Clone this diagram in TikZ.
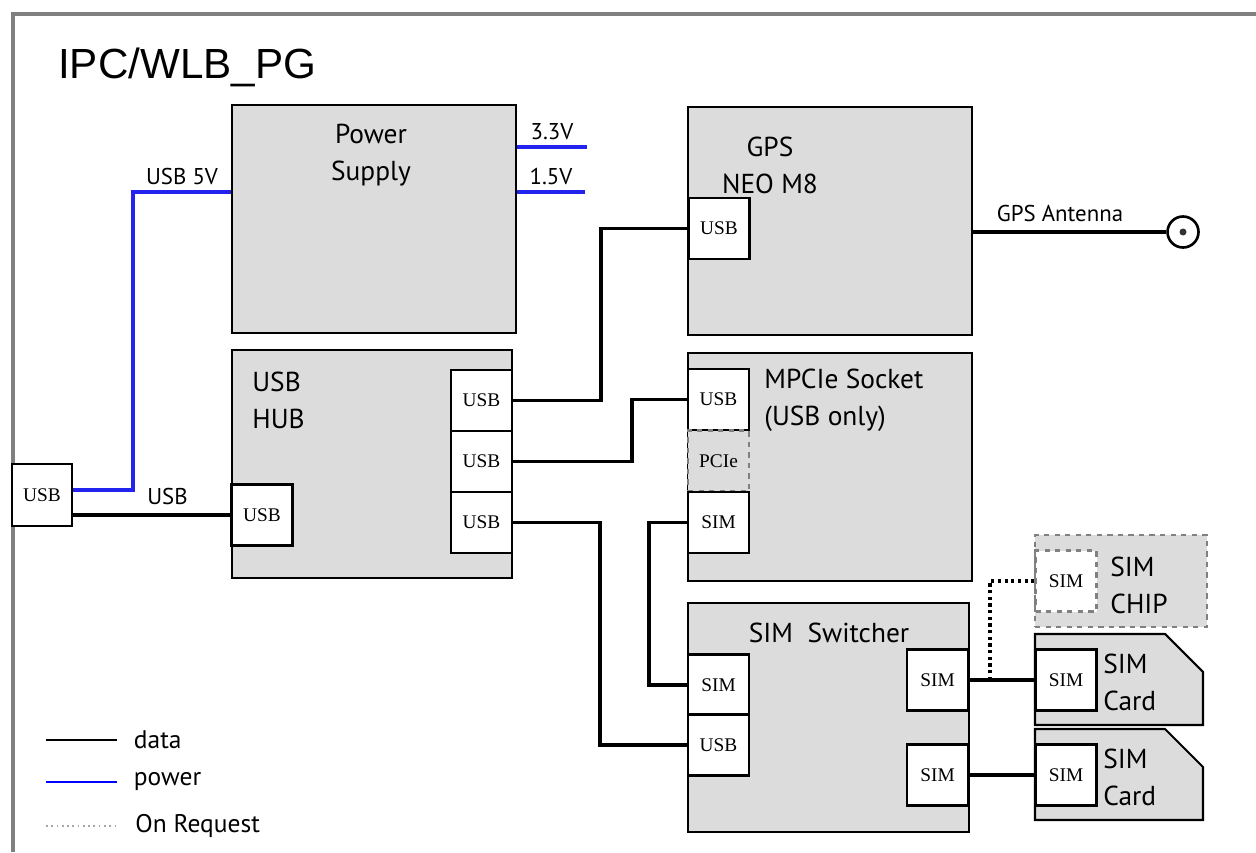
\documentclass[tikz,border=0pt]{standalone}
\usepackage{fontspec}
\setmainfont{Liberation Serif}
\newfontfamily\labelfont{PT Sans}
\newfontfamily\titlefont{Liberation Sans}
\usepackage{tikz}
\usetikzlibrary{calc}
\usepackage{xcolor}
\definecolor{boxgray}{RGB}{220,220,220}
\definecolor{pwrblue}{RGB}{35,35,240}
\definecolor{framegray}{RGB}{128,128,128}

\begin{document}
\begin{tikzpicture}[x=0.02cm, y=-0.02cm,
    block/.style={draw, fill=boxgray, line width=1.2pt, inner sep=0pt,
      minimum width=5.68cm, minimum height=4.56cm},
    port/.style={draw, fill=white, line width=1.2pt, inner sep=0pt,
      minimum width=1.22cm, minimum height=1.22cm,
      font=\fontsize{11}{11}\selectfont},
    lbl/.style={font=\labelfont\fontsize{15.6}{21}\selectfont, inner sep=0pt},
    small/.style={font=\labelfont\fontsize{13}{13}\selectfont, inner sep=0pt},
    data/.style={line width=1.8pt},
    pwr/.style={line width=1.8pt, pwrblue}]
  \useasboundingbox (0,0) rectangle (1256,852);
  % frame and title
  \draw[framegray, line width=1.8pt] (13,852) -- (13,14) -- (1256,14);
  \node[font=\titlefont\fontsize{24}{24}\selectfont, anchor=west]
    (title) at (52,67) {IPC/WLB\_PG};

  % main blocks
  \node[block] (psu) at (374,219) {};
  \node[block] (gps) at (830,221) {};
  \node[block, minimum width=5.6cm] (hub) at (372,464) {};
  \node[block] (mpcie) at (830,467) {};
  \node[block, minimum width=5.62cm, minimum height=4.58cm]
    (sw) at (828.5,717.5) {};

  % SIM chip (on request) and SIM cards
  \node[block, draw=gray, dashed, line width=1pt, minimum width=3.44cm,
    minimum height=1.84cm] (chip) at (1121,581) {};
  \foreach \yy/\nm in {634/cardA, 729/cardB} {
    \draw[fill=boxgray, line width=1.2pt] (1035,\yy) -- (1165,\yy)
      -- (1203,\yy+38) -- (1203,\yy+91) -- (1035,\yy+91) -- cycle;
  }

  % block labels
  \node[lbl, align=center] (psutxt) at (371,155) {Power\\Supply};
  \node[lbl, align=center] (gpstxt) at (770,165) {GPS\\NEO M8};
  \node[lbl, align=left, anchor=west] (hubtxt) at (252,400) {USB\\HUB};
  \node[lbl, align=left, anchor=west] (mpctxt) at (764,400)
    {MPCIe Socket\\(USB only)};
  \node[lbl] (swtxt) at (829,633) {SIM\ \ Switcher};
  \node[lbl, align=left, anchor=west] (chiptxt) at (1110,585) {SIM\\CHIP};
  \node[lbl, align=left, anchor=west] (cardAtxt) at (1103,682) {SIM\\Card};
  \node[lbl, align=left, anchor=west] (cardBtxt) at (1103,777) {SIM\\Card};

  % ports
  \node[port, minimum width=1.2cm, minimum height=1.24cm] (ext) at (42,495) {USB};
  \node[port] (hubin) at (262,515) {USB};
  \node[port] (hubA) at (481.5,400.5) {USB};
  \node[port] (hubB) at (481.5,461.5) {USB};
  \node[port] (hubC) at (481.5,522.5) {USB};
  \node[port] (gpsusb) at (719,228.5) {USB};
  \node[port] (mpusb) at (718.5,399.5) {USB};
  \node[port, fill=boxgray, draw=gray, dashed] (mppcie) at (718.5,461) {PCIe};
  \node[port] (mpsim) at (718.5,522.5) {SIM};
  \node[port] (swsim) at (718.5,685) {SIM};
  \node[port] (swusb) at (718.5,745) {USB};
  \node[port] (swoutA) at (937.5,680) {SIM};
  \node[port] (swoutB) at (937.5,775) {SIM};
  \node[port, draw=gray, dashed] (chipsim) at (1066,581) {SIM};
  \node[port] (cardAsim) at (1066,680) {SIM};
  \node[port] (cardBsim) at (1066,775) {SIM};

  % antenna
  \node[circle, draw, line width=1.5pt, minimum size=0.62cm, inner sep=0pt]
    (ant) at (1183,232) {};
  \fill[black!80] (ant.center) circle (3.5);

  % power lines
  \draw[pwr] (ext.east |- 0,490) -- (133,490) |- (psu.west |- 0,192)
    node[small, black, pos=0.75, above=3pt] {USB 5V};
  \draw[pwr] (psu.east |- 0,147) -- (587,147)
    node[small, black, midway, above=3pt] {3.3V};
  \draw[pwr] (psu.east |- 0,192) -- (585,192)
    node[small, black, midway, above=3pt] {1.5V};

  % data lines
  \draw[data] (ext.east |- 0,515) -- (hubin.west |- 0,515)
    node[small, pos=0.6, above=5pt] {USB};
  \draw[data] (hubA.east) -- (601,400.5) |- (gpsusb.west);
  \draw[data] (hubB.east) -- (632,461.5) |- (mpusb.west);
  \draw[data] (hubC.east) -- (600,522.5) |- (swusb.west);
  \draw[data] (mpsim.west) -- (649,522.5) |- (swsim.west);
  \draw[data] (swoutA.east) -- (cardAsim.west);
  \draw[data] (swoutB.east) -- (cardBsim.west);
  \draw[data] (gps.east |- ant.west) -- (ant.west)
    node[small, pos=0.45, above=5pt] {GPS Antenna};
  \draw[line width=1.8pt, dotted] (990,680) |- (chipsim.west);

  % legend
  \coordinate (legA) at (46,740);
  \coordinate (legB) at (46,782);
  \coordinate (legC) at (46,826);
  \draw[line width=1.3pt] (legA) -- ++(71,0)
    node[small, anchor=west, xshift=9pt, font=\labelfont\fontsize{14.5}{14.5}\selectfont] {data};
  \draw[line width=1.3pt, blue] (legB) -- ++(71,0)
    node[small, black, anchor=west, xshift=9pt, font=\labelfont\fontsize{14.5}{14.5}\selectfont] {power};
  \draw[line width=1pt, gray!70, dotted] (legC) -- ++(71,0)
    node[small, black, anchor=west, xshift=10pt, font=\labelfont\fontsize{14.5}{14.5}\selectfont] {On Request};
\end{tikzpicture}
\end{document}
